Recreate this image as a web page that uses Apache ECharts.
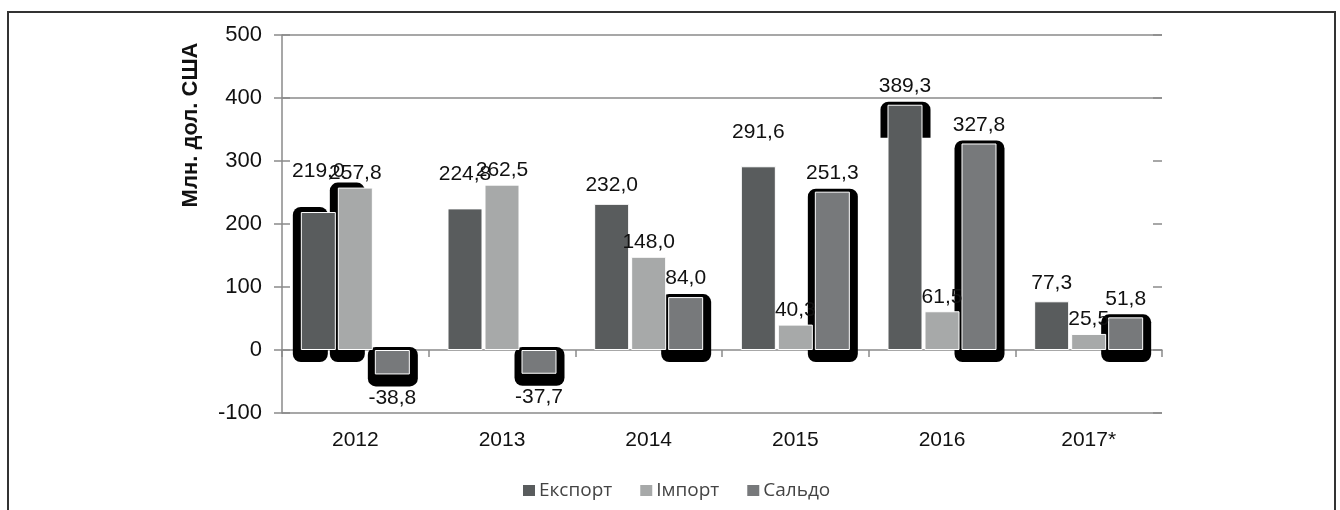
<!DOCTYPE html>
<html>
<head>
<meta charset="utf-8">
<script src="https://cdn.jsdelivr.net/npm/echarts@6/dist/echarts.min.js"></script>
<style>
  html, body { margin: 0; padding: 0; background: #fff; }
  #chart { width: 1340px; height: 510px; }
</style>
</head>
<body>
<div id="chart"></div>
<script>
// data
const years = ['2012', '2013', '2014', '2015', '2016', '2017*']
const exportVals = [219.0, 224.8, 232.0, 291.6, 389.3, 77.3]
const importVals = [257.8, 262.5, 148.0, 40.3, 61.5, 25.5]
const saldoVals = [-38.8, -37.7, 84.0, 251.3, 327.8, 51.8]
const seriesNames = ['Експорт', 'Імпорт', 'Сальдо']
const yTicks = [-100, 0, 100, 200, 300, 400, 500]

// styling
const colors = ['#595c5d', '#a7a9a9', '#77797b']
const barW = 35
const barGapPx = 2
const labelDist = [8, 4, 8]
// black rounded outlines seen behind some bars: [category, series, kind]
// kind 0 = full outline, 1 = shifted to the left, 2 = cap on top only
const outlined = [[0, 0, 1], [0, 1, 1], [0, 2, 0], [1, 2, 0], [2, 2, 0], [3, 2, 0], [4, 0, 2], [4, 2, 0], [5, 2, 0]]
// extra lift for a few labels that sit higher in the original
const labelLift = { '0-0': 22, '1-0': 16, '3-0': 16 }

const allVals = [exportVals, importVals, saldoVals]
const fmt = v => v.toFixed(1).replace('.', ',')
const font = 'Liberation Sans, Arial, sans-serif'

const chart = echarts.init(document.getElementById('chart'))

const barSeries = allVals.map((vals, s) => ({
  name: seriesNames[s],
  type: 'bar',
  xAxisIndex: 0,
  yAxisIndex: 0,
  barWidth: barW,
  barGap: (barGapPx / barW * 100) + '%',
  z: 3,
  itemStyle: { color: colors[s], borderColor: '#fff', borderWidth: 1 },
  label: {
    show: true,
    position: 'outside',
    distance: labelDist[s],
    fontFamily: font,
    fontSize: 21,
    color: '#111',
    formatter: p => fmt(p.value)
  },
  data: vals.map((v, c) => {
    let extra = labelLift[c + '-' + s] || 0
    if (v < 0) extra += 5
    return extra ? { value: v, label: { distance: labelDist[s] + extra } } : v
  })
}))

const frameSeries = {
  type: 'custom',
  xAxisIndex: 0,
  yAxisIndex: 0,
  silent: true,
  z: 1,
  encode: { x: 0, y: 2 },
  data: outlined.map(([c, s, k]) => [c, s, allVals[s][c], k]),
  renderItem: (params, api) => {
    const c = api.value(0)
    const s = api.value(1)
    const v = api.value(2)
    const k = api.value(3)
    const top = api.coord([c, v])
    const zero = api.coord([c, 0])
    const left = top[0] + (s - 1) * (barW + barGapPx) - barW / 2
    const yMin = Math.min(top[1], zero[1])
    const yMax = Math.max(top[1], zero[1])
    let shape
    if (k === 0) {
      shape = { x: left - 7, y: yMin - 3, width: barW + 15, height: yMax - yMin + 15, r: 8 }
    } else if (k === 1) {
      shape = { x: left - 8, y: yMin - 5, width: barW, height: yMax - yMin + 17, r: 8 }
    } else {
      shape = { x: left - 7, y: yMin - 3, width: barW + 15, height: 36, r: [8, 8, 0, 0] }
    }
    return { type: 'rect', shape: shape, style: { fill: '#000' } }
  }
}

chart.setOption({
  animation: false,
  backgroundColor: '#fff',
  textStyle: { fontFamily: font },
  color: colors,
  graphic: [
    {
      type: 'rect',
      shape: { x: 8, y: 12, width: 1327, height: 520 },
      style: { fill: 'none', stroke: '#333', lineWidth: 2 },
      silent: true
    },
    {
      type: 'text',
      x: 191,
      y: 125,
      rotation: Math.PI / 2,
      style: {
        text: 'Млн. дол. США',
        fontFamily: font,
        fontWeight: 'bold',
        fontSize: 22,
        fill: '#111',
        align: 'center',
        verticalAlign: 'middle'
      }
    }
  ],
  grid: { left: 282, right: 178, top: 35, bottom: 97 },
  legend: {
    data: seriesNames,
    bottom: 5,
    left: 516,
    itemWidth: 14,
    itemHeight: 13,
    itemGap: 26,
    icon: 'rect',
    textStyle: { fontFamily: 'Open Sans, Noto Sans, sans-serif', fontSize: 19, color: '#444', padding: [0, 0, 0, -2] }
  },
  xAxis: [
    {
      type: 'category',
      data: years,
      position: 'bottom',
      axisLine: { show: false, onZero: false },
      axisTick: { show: false },
      axisLabel: { margin: 17, fontSize: 21, color: '#111' }
    },
    {
      type: 'category',
      data: years,
      position: 'top',
      axisLine: { show: true, onZero: true, lineStyle: { color: '#8a8a8a', width: 1.5 } },
      axisTick: { show: true, inside: true, length: 7, lineStyle: { color: '#8a8a8a', width: 1.5 } },
      axisLabel: { show: false }
    }
  ],
  yAxis: [
    {
      type: 'value',
      min: yTicks[0],
      max: yTicks[yTicks.length - 1],
      interval: 100,
      axisLine: { show: true, lineStyle: { color: '#8a8a8a', width: 1.5 } },
      axisTick: { show: true, length: 8, lineStyle: { color: '#8a8a8a', width: 1.5 } },
      axisLabel: { margin: 20, fontSize: 22, color: '#111' },
      splitLine: {
        show: true,
        lineStyle: {
          width: 1.5,
          color: yTicks.map(t => (t === -100 || t >= 400) ? '#8a8a8a' : 'rgba(0,0,0,0)')
        }
      }
    },
    {
      type: 'value',
      position: 'left',
      min: yTicks[0],
      max: yTicks[yTicks.length - 1],
      interval: 100,
      axisLine: { show: false },
      axisTick: { show: true, inside: true, length: 8, lineStyle: { color: '#8a8a8a', width: 1.5 } },
      axisLabel: { show: false },
      splitLine: { show: false }
    },
    {
      type: 'value',
      position: 'right',
      min: yTicks[0],
      max: yTicks[yTicks.length - 1],
      interval: 100,
      axisLine: { show: false },
      axisTick: { show: true, inside: true, length: 9, lineStyle: { color: '#8a8a8a', width: 1.5 } },
      axisLabel: { show: false },
      splitLine: { show: false }
    }
  ],
  series: [frameSeries].concat(barSeries)
})
</script>
</body>
</html>
